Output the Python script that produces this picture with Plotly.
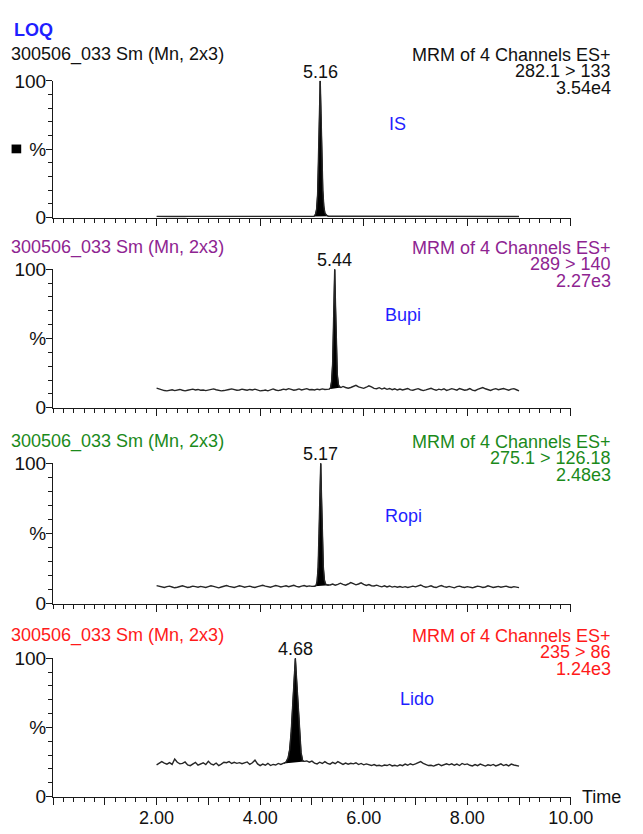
import plotly.graph_objects as go

W, H = 643, 834

# ---------------- data ----------------
base_t = [2.00, 2.05, 2.10, 2.15, 2.20, 2.25, 2.30, 2.35, 2.40, 2.45,
          2.50, 2.55, 2.60, 2.65, 2.70, 2.75, 2.80, 2.85, 2.90, 2.95,
          3.00, 3.05, 3.10, 3.15, 3.20, 3.25, 3.30, 3.35, 3.40, 3.45,
          3.50, 3.55, 3.60, 3.65, 3.70, 3.75, 3.80, 3.85, 3.90, 3.95,
          4.00, 4.05, 4.10, 4.15, 4.20, 4.25, 4.30, 4.35, 4.40, 4.45,
          4.50, 4.55, 4.60, 4.65, 4.70, 4.75, 4.80, 4.85, 4.90, 4.95,
          5.00, 5.05, 5.10, 5.15, 5.20, 5.25, 5.30, 5.35, 5.40, 5.45,
          5.50, 5.55, 5.60, 5.65, 5.70, 5.75, 5.80, 5.85, 5.90, 5.95,
          6.00, 6.05, 6.10, 6.15, 6.20, 6.25, 6.30, 6.35, 6.40, 6.45,
          6.50, 6.55, 6.60, 6.65, 6.70, 6.75, 6.80, 6.85, 6.90, 6.95,
          7.00, 7.05, 7.10, 7.15, 7.20, 7.25, 7.30, 7.35, 7.40, 7.45,
          7.50, 7.55, 7.60, 7.65, 7.70, 7.75, 7.80, 7.85, 7.90, 7.95,
          8.00, 8.05, 8.10, 8.15, 8.20, 8.25, 8.30, 8.35, 8.40, 8.45,
          8.50, 8.55, 8.60, 8.65, 8.70, 8.75, 8.80, 8.85, 8.90, 8.95,
          9.00]

is_base = [0.9, 0.8, 0.9, 1.0, 0.9, 0.8, 0.9, 0.8, 0.9, 1.0, 0.9, 0.8, 0.9, 0.9, 0.8, 1.0, 0.9, 0.8, 0.9, 0.9,
           0.8, 0.9, 1.0, 0.9, 0.8, 0.9, 0.9, 1.0, 0.9, 0.8, 0.9, 0.9, 0.8, 0.9, 1.0, 0.9, 0.8, 0.9, 0.9, 1.0,
           0.9, 0.8, 0.9, 1.0, 0.9, 0.9, 0.8, 0.9, 1.0, 0.9, 0.9, 0.8, 0.9, 0.9, 1.0, 0.9, 0.8, 0.9, 0.9, 0.9,
           0.9, 0.9, 0.9, 0.9, 0.9, 1.0, 1.0, 1.1, 1.1, 1.2, 1.2, 1.1, 1.1, 1.0, 1.0, 1.1, 1.1, 1.0, 1.0, 1.0,
           1.0, 0.9, 0.9, 1.0, 1.0, 1.0, 0.9, 0.9, 0.9, 1.0, 0.9, 0.9, 0.8, 0.9, 0.9, 0.8, 0.9, 0.9, 0.8, 0.9,
           0.9, 0.8, 0.9, 0.9, 0.8, 0.9, 0.9, 0.8, 0.9, 0.8, 0.9, 0.8, 0.8, 0.9, 0.8, 0.9, 0.8, 0.8, 0.9, 0.8,
           0.9, 0.8, 0.8, 0.9, 0.8, 0.8, 0.9, 0.8, 0.8, 0.9, 0.8, 0.9, 0.8, 0.8, 0.9, 0.8, 0.8, 0.9, 0.8, 0.8,
           0.8]
bupi_base = [14.2, 13.6, 12.8, 12.4, 12.2, 12.6, 13.0, 12.4, 12.8, 13.2, 12.6, 12.2, 12.6, 13.0, 13.4, 12.8, 13.2, 12.6, 12.8, 12.4,
             12.8, 13.4, 13.6, 13.0, 12.6, 12.2, 12.4, 13.0, 13.2, 13.6, 13.0, 12.6, 12.8, 13.4, 13.0, 12.6, 13.2, 12.8, 13.4, 12.6,
             12.2, 12.4, 12.8, 12.2, 13.2, 13.6, 12.8, 12.4, 12.8, 13.4, 13.0, 13.8, 13.2, 12.6, 13.0, 13.6, 12.8, 13.2, 13.8, 13.0,
             13.2, 12.8, 13.4, 13.0, 13.6, 13.2, 13.6, 13.4, 13.5, 13.6, 13.8, 14.6, 15.4, 14.6, 14.1, 14.6, 15.2, 16.2, 15.0, 14.3,
             14.0, 14.8, 15.8, 15.0, 14.0, 13.7, 14.5, 13.5, 14.2, 13.3, 13.9, 13.0, 13.7, 12.8, 13.5, 12.8, 13.4, 13.9, 12.9, 12.6,
             13.2, 13.8, 13.0, 12.4, 12.9, 13.6, 14.0, 13.2, 12.6, 13.4, 12.9, 13.7, 12.5, 13.1, 13.8, 13.3, 12.7, 13.9, 13.4, 12.6,
             13.0, 13.8, 12.7, 12.3, 13.3, 14.2, 14.6, 13.7, 13.0, 12.5, 13.2, 13.8, 13.0, 13.6, 13.9, 13.3, 12.7, 13.4, 13.8, 13.0,
             12.2]
ropi_base = [12.9, 12.3, 11.9, 11.5, 12.1, 12.5, 11.9, 11.3, 11.7, 12.3, 12.7, 12.1, 11.5, 11.9, 12.5, 12.1, 11.7, 12.3, 11.9, 11.5,
             12.1, 12.7, 12.3, 11.7, 11.3, 11.9, 12.5, 12.9, 12.3, 11.9, 11.5, 12.1, 12.7, 12.3, 11.7, 12.1, 12.5, 11.9, 11.5, 12.1,
             12.5, 13.1, 12.5, 11.9, 11.7, 12.3, 12.9, 12.5, 11.9, 12.3, 12.7, 12.1, 12.5, 13.1, 12.3, 11.9, 12.5, 12.9, 12.3, 12.7,
             12.3, 12.5, 12.4, 12.5, 12.6, 12.8, 13.0, 13.3, 14.0, 13.2, 13.8, 14.6, 13.8, 13.2, 14.0, 15.0, 14.2, 13.4, 14.0, 14.8,
             13.8, 13.0, 13.6, 12.8, 12.6, 13.2, 12.5, 12.0, 12.7, 11.9, 12.6, 11.8, 12.3, 11.7, 12.2, 11.6, 12.1, 11.5, 12.0, 12.5,
             12.0, 12.8, 13.3, 12.3, 11.7, 12.1, 12.7, 11.9, 11.5, 12.3, 12.9, 12.1, 11.7, 12.3, 11.9, 11.3, 12.1, 12.5, 11.9, 11.5,
             12.1, 11.7, 11.3, 11.9, 12.5, 12.1, 11.5, 11.9, 12.7, 12.1, 11.5, 11.9, 12.3, 11.7, 12.1, 12.5, 11.9, 11.5, 12.1, 11.7,
             11.4]
lido_base = [23.0, 24.0, 25.3, 24.3, 23.5, 24.6, 23.3, 27.2, 24.9, 23.7, 24.1, 25.1, 22.9, 22.4, 23.7, 24.8, 22.7, 23.5, 24.5, 23.2,
             25.6, 23.7, 23.0, 24.3, 22.5, 23.5, 24.9, 24.5, 25.3, 24.0, 24.8, 24.1, 24.6, 23.8, 24.3, 25.1, 23.3, 24.5, 26.4, 23.7,
             22.4, 23.5, 22.7, 24.1, 22.5, 23.3, 22.9, 24.0, 23.3, 24.1, 24.0, 24.2, 24.4, 24.6, 24.8, 25.0, 25.2, 25.4, 25.8, 24.9,
             25.7, 24.3, 23.7, 24.9, 24.0, 25.3, 24.1, 23.5, 24.8, 23.8, 25.3, 24.0, 23.3, 24.3, 23.5, 24.1, 23.7, 24.5, 23.2, 24.0,
             23.0, 23.7, 22.9, 22.5, 23.2, 22.4, 22.7, 22.1, 22.9, 22.5, 23.3, 22.2, 22.7, 22.1, 23.0, 22.4, 23.5, 22.7, 23.8, 23.0,
             23.7, 24.8, 25.3, 24.1, 23.2, 22.5, 22.7, 22.1, 22.9, 23.5, 22.4, 23.3, 23.8, 23.0, 23.7, 22.7, 23.5, 22.5, 24.0, 23.2,
             23.7, 22.7, 22.2, 23.2, 22.4, 23.5, 22.7, 22.1, 23.0, 22.5, 23.3, 22.2, 22.9, 23.7, 22.5, 23.2, 22.2, 23.5, 22.9, 22.7,
             22.1]

is_peak_t = [5.04, 5.07, 5.09, 5.11, 5.13, 5.145, 5.16, 5.175, 5.19, 5.21, 5.23, 5.25, 5.28, 5.32]
is_peak_i = [0.9, 2.5, 6, 17, 45, 75, 100, 76, 48, 20, 8, 3.5, 1.8, 1.0]
bupi_peak_t = [5.33, 5.36, 5.38, 5.40, 5.415, 5.43, 5.44, 5.455, 5.47, 5.49, 5.51, 5.53, 5.56]
bupi_peak_i = [13.4, 14.5, 19, 32, 55, 82, 100, 74, 46, 24, 17, 15.2, 14.6]
ropi_peak_t = [5.05, 5.08, 5.10, 5.12, 5.14, 5.155, 5.17, 5.185, 5.20, 5.22, 5.24, 5.26, 5.29, 5.33]
ropi_peak_i = [12.4, 13.0, 16, 26, 50, 78, 100, 76, 50, 26, 17, 14.2, 13.4, 13.2]
lido_peak_t = [4.46, 4.50, 4.54, 4.57, 4.60, 4.63, 4.655, 4.68, 4.705, 4.73, 4.76, 4.79, 4.82, 4.85]
lido_peak_i = [24.0, 25, 28, 34, 47, 66, 85, 100, 84, 68, 50, 32, 26, 25.5]

peak_labels = ["5.16", "5.44", "5.17", "4.68"]
peak_label_x = [5.16, 5.44, 5.17, 4.68]
compounds = ["IS", "Bupi", "Ropi", "Lido"]
header_left = ["300506_033 Sm (Mn, 2x3)"] * 4
header_right = ["MRM of 4 Channels ES+"] * 4
transitions = ["282.1 > 133", "289 > 140", "275.1 > 126.18", "235 > 86"]
intensities = ["3.54e4", "2.27e3", "2.48e3", "1.24e3"]
x_tick_vals = [0, 1, 2, 3, 4, 5, 6, 7, 8, 9, 10]
x_tick_text = ["", "", "2.00", "", "4.00", "", "6.00", "", "8.00", "", "10.00"]
y_tick_vals = [0, 50, 100]
y_tick_text = ["0", "%", "100"]

# ---------------- styling ----------------
FONT = "Liberation Sans, Arial, sans-serif"
LINE = "#1a1a1a"
colors = ["#111111", "#8e2491", "#1b8a1b", "#ff1a1a"]
BLUE = "#1f1fff"

panel_px = [(72.7, 213), (266, 408), (465, 609), (665, 807)]  # (y of 100, y of 0)
header_y = [46, 244, 443, 642]
comp_pos = [(6.65, 68.5), (6.76, 67), (6.76, 62.5), (7.02, 70.5)]
x_dom = [55 / W, 592 / W]

def px(x):
    return x / W

def py(y):
    return 1 - y / H

bases = [is_base, bupi_base, ropi_base, lido_base]
peaks = [(is_peak_t, is_peak_i), (bupi_peak_t, bupi_peak_i),
         (ropi_peak_t, ropi_peak_i), (lido_peak_t, lido_peak_i)]

fig = go.Figure()
annotations = []

for k in range(4):
    n = k + 1
    xa = "x" if n == 1 else f"x{n}"
    ya = "y" if n == 1 else f"y{n}"
    pt, pi = peaks[k]
    b = bases[k]
    full_t = [t for t in base_t if t < pt[0]] + pt + [t for t in base_t if t > pt[-1]]
    full_i = [v for t, v in zip(base_t, b) if t < pt[0]] + pi + \
             [v for t, v in zip(base_t, b) if t > pt[-1]]
    # filled peak
    fig.add_trace(go.Scatter(x=pt, y=pi, xaxis=xa, yaxis=ya, mode="lines",
                             fill="toself", fillcolor="#000000",
                             line=dict(color="#000000", width=1),
                             showlegend=False, hoverinfo="skip"))
    # chromatogram trace
    fig.add_trace(go.Scatter(x=full_t, y=full_i, xaxis=xa, yaxis=ya, mode="lines",
                             line=dict(color="#262626", width=1.4),
                             showlegend=False))

    y100, y0 = panel_px[k]
    dom = [py(y0), py(y100)]
    xkey = "xaxis" if n == 1 else f"xaxis{n}"
    ykey = "yaxis" if n == 1 else f"yaxis{n}"
    fig.update_layout(**{
        xkey: dict(domain=x_dom, anchor=ya, range=[0, 10], showline=True,
                   linecolor=LINE, linewidth=1.3, ticks="outside",
                   tickvals=x_tick_vals, ticktext=x_tick_text, ticklen=7,
                   tickwidth=1, tickcolor=LINE, ticklabelstandoff=-2,
                   showticklabels=(n == 4), showgrid=False, zeroline=False,
                   tickfont=dict(family=FONT, size=18, color="#111"),
                   minor=dict(dtick=0.2, tick0=0, ticklen=4, ticks="outside",
                              tickcolor=LINE, tickwidth=1, showgrid=False),
                   fixedrange=True),
        ykey: dict(domain=dom, anchor=xa, range=[0, 100], showline=True,
                   linecolor=LINE, linewidth=1.3, ticks="outside",
                   tickvals=y_tick_vals, ticktext=y_tick_text, ticklen=6,
                   tickwidth=1, tickcolor=LINE, ticklabelstandoff=-4,
                   showgrid=False, zeroline=False,
                   tickfont=dict(family=FONT, size=19, color="#111"),
                   minor=dict(dtick=10, tick0=0, ticklen=4, ticks="outside",
                              tickcolor=LINE, tickwidth=1, showgrid=False),
                   fixedrange=True),
    })

    c = colors[k]
    hy = header_y[k]
    annotations.append(dict(x=px(9), y=py(hy), xref="paper", yref="paper",
                            text=header_left[k], showarrow=False,
                            xanchor="left", yanchor="middle",
                            font=dict(family=FONT, size=18, color=c)))
    for j, txt in enumerate([header_right[k], transitions[k], intensities[k]]):
        annotations.append(dict(x=px(636), y=py(hy + 17 * j), xref="paper", yref="paper",
                                text=txt, showarrow=False,
                                xanchor="right", yanchor="middle",
                                font=dict(family=FONT, size=18, color=c)))
    annotations.append(dict(x=peak_label_x[k], y=100, xref=xa, yref=ya,
                            text=peak_labels[k], showarrow=False,
                            xanchor="center", yanchor="middle", yshift=9,
                            font=dict(family=FONT, size=18, color="#111")))
    cx, cy = comp_pos[k]
    annotations.append(dict(x=cx, y=cy, xref=xa, yref=ya,
                            text=compounds[k], showarrow=False,
                            xanchor="center", yanchor="middle",
                            font=dict(family=FONT, size=18, color=BLUE)))

annotations.append(dict(x=px(12), y=py(21), xref="paper", yref="paper",
                        text="<b>LOQ</b>", showarrow=False,
                        xanchor="left", yanchor="middle",
                        font=dict(family=FONT, size=18, color=BLUE)))
annotations.append(dict(x=px(601), y=py(807), xref="paper", yref="paper",
                        text="Time", showarrow=False,
                        xanchor="left", yanchor="middle",
                        font=dict(family=FONT, size=18, color="#111")))

fig.update_layout(
    width=W, height=H,
    margin=dict(l=0, r=0, t=0, b=0),
    paper_bgcolor="white", plot_bgcolor="white",
    annotations=annotations,
    shapes=[dict(type="rect", xref="paper", yref="paper",
                 x0=px(12), x1=px(22), y0=py(147), y1=py(138),
                 fillcolor="#000", line=dict(width=0))],
    showlegend=False,
)

fig.write_html("out.html")
